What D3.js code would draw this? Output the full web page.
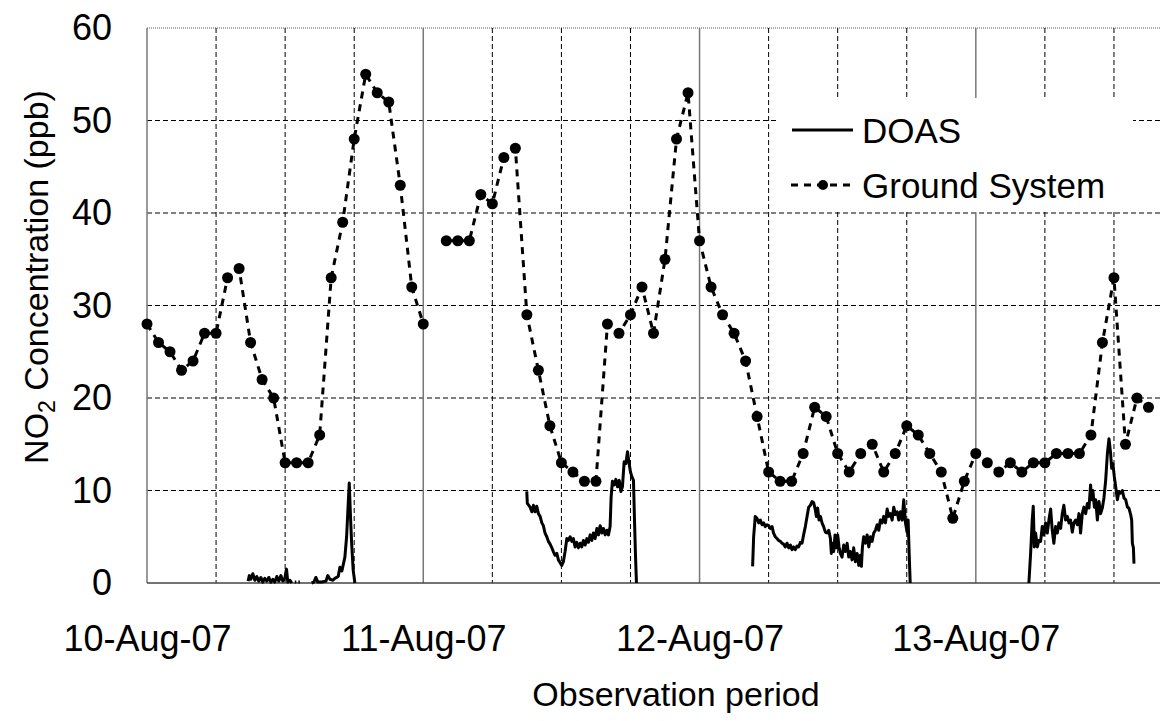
<!DOCTYPE html>
<html>
<head>
<meta charset="utf-8">
<script src="https://cdn.jsdelivr.net/npm/d3@7"></script>
<style>
  body { margin: 0; background: #fff; }
  svg { font-family: "Liberation Sans", Arial, sans-serif; }
</style>
</head>
<body>
<svg id="chart"></svg>
<script>
// NO2 concentration, DOAS vs ground system, 10-13 Aug 2007
const startTime = new Date(2007, 7, 10, 0, 0);
const endHour = 88;

// Ground system: one value per hour from 10-Aug 00:00 (null = missing)
const groundValues = [
    28, 26, 25, 23, 24, 27, 27, 33, 34, 26,
    22, 20, 13, 13, 13, 16, 33, 39, 48, 55,
    53, 52, 43, 32, 28, null, 37, 37, 37, 42,
    41, 46, 47, 29, 23, 17, 13, 12, 11, 11,
    28, 27, 29, 32, 27, 35, 48, 53, 37, 32,
    29, 27, 24, 18, 12, 11, 11, 14, 19, 18,
    14, 12, 14, 15, 12, 14, 17, 16, 14, 12,
    7, 11, 14, 13, 12, 13, 12, 13, 13, 14,
    14, 14, 16, 26, 33, 15, 20, 19
];

// DOAS: [hours since 10-Aug 00:00, ppb], null breaks the line
const doasRun1 = [
    [8.78, 0.2], [8.89, 0.8], [9.02, 0.4], [9.19, 1.0], [9.37, 0.3], [9.54, 0.7],
    [9.71, 0.2], [9.89, 0.6], [10.06, 0.1], [10.23, 0.5], [10.41, 0.2], [10.58, 0.6],
    [10.76, 0.1], [10.93, 0.4], [11.10, 0.1], [11.28, 0.7], [11.45, 0.2], [11.63, 0.8],
    [11.80, 0.2], [11.97, 0.5], [12.12, 1.5], [12.23, 0.1], [12.41, 0.3], [12.58, 0.0],
    null, [12.84, 0.1], [12.97, 0.1], null, [13.15, 0.1], [13.28, 0.1], null,
    [14.30, 0.0], [14.50, 0.1], [14.67, 0.6], [14.84, 0.1], [15.19, 0.1], [15.54, 0.2],
    [15.71, 0.8], [15.89, 0.4], [16.15, 0.3], [16.32, 0.5], [16.61, 0.7], [16.76, 1.7],
    [16.93, 1.3], [17.19, 2.8], [17.34, 5.0], [17.48, 8.6], [17.57, 10.8], [17.69, 6.8],
    [17.77, 4.5], [17.91, 1.4], [18.06, 0.0]
];
const doasRun2 = [
    [32.99, 9.9], [33.04, 8.6], [33.28, 8.2], [33.43, 7.7], [33.57, 8.4], [33.71, 7.7],
    [33.86, 8.3], [34.00, 7.5], [34.15, 7.2], [34.30, 6.5], [34.43, 6.2], [34.58, 5.4],
    [34.73, 5.0], [34.87, 4.5], [35.02, 4.2], [35.17, 3.8], [35.30, 3.4], [35.45, 3.0],
    [35.60, 3.2], [35.74, 2.5], [35.89, 2.2], [36.03, 1.9], [36.17, 2.3], [36.32, 3.4],
    [36.47, 4.8], [36.61, 4.6], [36.76, 5.0], [36.90, 4.5], [37.04, 4.8], [37.19, 3.9],
    [37.34, 4.4], [37.48, 3.8], [37.63, 4.3], [37.77, 3.9], [37.91, 4.6], [38.06, 4.1],
    [38.21, 4.8], [38.35, 4.4], [38.50, 5.2], [38.64, 4.6], [38.78, 5.4], [38.93, 4.8],
    [39.08, 5.9], [39.22, 5.2], [39.37, 6.2], [39.51, 5.4], [39.65, 5.9], [39.80, 5.2],
    [39.95, 5.7], [40.09, 5.2], [40.23, 6.1], [40.32, 9.3], [40.43, 11.0], [40.58, 10.6],
    [40.73, 11.2], [40.87, 10.4], [41.02, 11.1], [41.17, 9.9], [41.30, 10.4], [41.45, 13.1],
    [41.60, 12.9], [41.74, 14.2], [41.86, 13.1], [42.00, 12.0], [42.12, 11.5], [42.26, 11.1],
    [42.35, 6.8], [42.43, 3.2], [42.52, 0.0]
];
const doasRun3 = [
    [52.61, 1.8], [52.70, 5.0], [52.84, 7.2], [52.99, 7.0], [53.13, 6.5], [53.28, 6.8],
    [53.43, 6.3], [53.57, 6.5], [53.71, 6.1], [53.86, 6.3], [54.00, 6.2], [54.15, 5.9],
    [54.30, 6.1], [54.43, 5.4], [54.58, 5.0], [54.73, 4.8], [54.87, 4.6], [55.02, 4.5],
    [55.17, 4.3], [55.30, 4.2], [55.45, 3.9], [55.60, 4.3], [55.74, 3.8], [55.89, 4.1],
    [56.03, 3.6], [56.17, 3.9], [56.32, 3.6], [56.47, 4.0], [56.61, 3.9], [56.76, 4.4],
    [56.90, 4.3], [57.04, 5.2], [57.19, 6.1], [57.34, 7.2], [57.48, 8.2], [57.63, 8.4],
    [57.77, 8.8], [57.91, 8.7], [58.06, 7.9], [58.15, 7.2], [58.26, 8.1], [58.38, 6.8],
    [58.50, 7.2], [58.64, 6.5], [58.78, 6.1], [58.93, 5.5], [59.08, 5.4], [59.22, 5.7],
    [59.37, 4.8], [59.45, 3.2], [59.57, 4.3], [59.65, 3.4], [59.77, 5.2], [59.89, 3.8],
    [60.00, 5.2], [60.12, 3.9], [60.23, 3.2], [60.38, 2.8], [60.52, 4.1], [60.67, 3.4],
    [60.82, 4.3], [60.96, 2.8], [61.10, 3.4], [61.25, 2.5], [61.39, 3.8], [61.54, 2.3],
    [61.69, 3.2], [61.83, 1.9], [61.97, 3.0], [62.06, 1.8], [62.15, 3.9], [62.26, 5.0],
    [62.41, 4.3], [62.56, 5.2], [62.70, 3.9], [62.84, 5.0], [62.99, 4.5], [63.13, 5.4],
    [63.28, 5.7], [63.43, 6.3], [63.57, 5.7], [63.71, 6.8], [63.86, 6.5], [64.00, 7.2],
    [64.15, 6.5], [64.30, 8.0], [64.43, 7.2], [64.58, 7.5], [64.73, 6.8], [64.87, 8.2],
    [65.02, 7.4], [65.17, 7.7], [65.30, 6.8], [65.45, 7.7], [65.60, 6.8], [65.74, 9.0],
    [65.89, 6.5], [66.03, 5.5], [66.12, 6.8], [66.21, 3.2], [66.30, 0.0]
];
const doasRun4 = [
    [76.61, 0.0], [76.76, 3.2], [76.90, 6.8], [76.99, 8.3], [77.08, 3.9], [77.19, 5.4],
    [77.34, 3.9], [77.48, 4.6], [77.63, 4.5], [77.77, 6.1], [77.91, 5.2], [78.06, 6.5],
    [78.21, 5.4], [78.35, 6.8], [78.50, 8.0], [78.64, 5.7], [78.78, 4.3], [78.93, 6.1],
    [79.08, 5.4], [79.22, 6.5], [79.37, 5.9], [79.51, 7.5], [79.65, 8.4], [79.80, 6.8],
    [79.95, 7.2], [80.09, 6.5], [80.23, 6.8], [80.38, 5.5], [80.52, 6.5], [80.67, 6.8],
    [80.82, 6.3], [80.96, 7.5], [81.10, 5.4], [81.25, 7.5], [81.39, 8.2], [81.54, 7.5],
    [81.69, 8.6], [81.83, 8.1], [81.97, 10.6], [82.06, 9.0], [82.17, 10.0], [82.30, 8.2],
    [82.41, 9.0], [82.56, 6.8], [82.70, 8.8], [82.84, 7.5], [82.99, 8.1], [83.13, 9.2],
    [83.28, 11.1], [83.43, 14.0], [83.57, 15.6], [83.71, 14.0], [83.80, 12.4], [83.91, 12.9],
    [84.03, 11.5], [84.15, 10.4], [84.30, 9.0], [84.43, 9.9], [84.58, 9.7], [84.73, 10.0],
    [84.87, 9.2], [85.02, 9.0], [85.17, 8.2], [85.30, 8.1], [85.45, 7.4], [85.54, 6.8],
    [85.60, 4.3], [85.69, 3.8], [85.74, 2.1]
];

const yTicks = [0, 10, 20, 30, 40, 50, 60];
const gridHours = d3.range(6, endHour, 6);
const dayTicks = [10, 11, 12, 13].map(d => new Date(2007, 7, d));
const legendItems = ["DOAS", "Ground System"];

const width = 1169, height = 721;
const margin = {top: 28, right: 9, bottom: 138, left: 147};

const svg = d3.select("#chart")
    .attr("width", width)
    .attr("height", height);

const hourToDate = h => new Date(startTime.getTime() + h * 3600000);

const xScale = d3.scaleTime()
    .domain([startTime, hourToDate(endHour)])
    .range([margin.left, width - margin.right]);

const yScale = d3.scaleLinear()
    .domain([0, 60])
    .range([height - margin.bottom, margin.top]);

// horizontal grid (dashed), top border dotted
svg.append("g")
    .selectAll("line")
    .data(yTicks.filter(d => d > 0 && d < 60))
    .join("line")
    .attr("x1", margin.left).attr("x2", width - margin.right)
    .attr("y1", d => yScale(d)).attr("y2", d => yScale(d))
    .attr("stroke", "#000").attr("stroke-width", 1)
    .attr("stroke-dasharray", "5,3");

svg.append("line")
    .attr("x1", margin.left).attr("x2", width - margin.right)
    .attr("y1", yScale(60)).attr("y2", yScale(60))
    .attr("stroke", "#555").attr("stroke-width", 1.2)
    .attr("stroke-dasharray", "1,1");

// vertical grid: every 6 h dashed, midnight solid grey
svg.append("g")
    .selectAll("line")
    .data(gridHours)
    .join("line")
    .attr("x1", d => xScale(hourToDate(d))).attr("x2", d => xScale(hourToDate(d)))
    .attr("y1", yScale(60)).attr("y2", yScale(0))
    .attr("stroke", d => d % 24 === 0 ? "#777" : "#000")
    .attr("stroke-width", d => d % 24 === 0 ? 1.5 : 1)
    .attr("stroke-dasharray", d => d % 24 === 0 ? null : "5,3");

// axes lines
svg.append("line")
    .attr("x1", margin.left).attr("x2", margin.left)
    .attr("y1", yScale(60)).attr("y2", yScale(0))
    .attr("stroke", "#777").attr("stroke-width", 1.5);
svg.append("line")
    .attr("x1", margin.left).attr("x2", width - margin.right)
    .attr("y1", yScale(0)).attr("y2", yScale(0))
    .attr("stroke", "#444").attr("stroke-width", 1.5);

// y tick labels
const yAxis = d3.axisLeft(yScale)
    .tickValues(yTicks)
    .tickSize(0)
    .tickPadding(35);
const yAxisG = svg.append("g")
    .attr("transform", `translate(${margin.left},0)`)
    .call(yAxis);
yAxisG.select(".domain").remove();
yAxisG.selectAll("text")
    .attr("font-size", 36)
    .attr("font-family", "Liberation Sans, Arial, sans-serif")
    .attr("fill", "#000");

// x tick labels, centred on midnight
const xAxis = d3.axisBottom(xScale)
    .tickValues(dayTicks)
    .tickSize(0)
    .tickPadding(42)
    .tickFormat(d3.timeFormat("%d-%b-%y"));
const xAxisG = svg.append("g")
    .attr("transform", `translate(0,${yScale(0)})`)
    .call(xAxis);
xAxisG.select(".domain").remove();
xAxisG.selectAll("text")
    .attr("font-size", 36)
    .attr("font-family", "Liberation Sans, Arial, sans-serif")
    .attr("fill", "#000");

// axis titles
svg.append("text")
    .attr("x", 676)
    .attr("y", 706)
    .attr("text-anchor", "middle")
    .attr("font-size", 34)
    .text("Observation period");

const yTitle = svg.append("text")
    .attr("transform", "translate(48,277) rotate(-90)")
    .attr("text-anchor", "middle")
    .attr("font-size", 34);
yTitle.append("tspan").text("NO");
yTitle.append("tspan").attr("font-size", 23).attr("dy", 7).text("2");
yTitle.append("tspan").attr("dy", -7).text(" Concentration (ppb)");

// legend box
const legend = svg.append("g");
legend.append("rect")
    .attr("x", 778).attr("y", 98)
    .attr("width", 355).attr("height", 114)
    .attr("fill", "#fff");
legend.selectAll("text")
    .data(legendItems)
    .join("text")
    .attr("x", 862)
    .attr("y", (d, i) => 130 + i * 55)
    .attr("dy", "0.36em")
    .attr("font-size", 35)
    .text(d => d);
legend.append("line")
    .attr("x1", 792).attr("x2", 853)
    .attr("y1", 130).attr("y2", 130)
    .attr("stroke", "#000").attr("stroke-width", 3);
legend.append("line")
    .attr("x1", 791).attr("x2", 855)
    .attr("y1", 185).attr("y2", 185)
    .attr("stroke", "#000").attr("stroke-width", 3)
    .attr("stroke-dasharray", "7,6");
legend.append("circle")
    .attr("cx", 823).attr("cy", 185).attr("r", 5)
    .attr("fill", "#000");

// DOAS line
const doasLine = d3.line()
    .defined(d => d !== null)
    .x(d => xScale(hourToDate(d[0])))
    .y(d => yScale(d[1]));

svg.append("g")
    .selectAll("path")
    .data([doasRun1, doasRun2, doasRun3, doasRun4])
    .join("path")
    .attr("d", doasLine)
    .attr("fill", "none")
    .attr("stroke", "#000")
    .attr("stroke-width", 3)
    .attr("stroke-linejoin", "round");

// Ground system line + markers
const groundPoints = groundValues.map((v, i) => ({hour: i, value: v}));
const groundLine = d3.line()
    .defined(d => d.value !== null)
    .x(d => xScale(hourToDate(d.hour)))
    .y(d => yScale(d.value));

svg.append("path")
    .datum(groundPoints)
    .attr("d", groundLine)
    .attr("fill", "none")
    .attr("stroke", "#000")
    .attr("stroke-width", 3)
    .attr("stroke-dasharray", "7,6");

svg.append("g")
    .selectAll("circle")
    .data(groundPoints.filter(d => d.value !== null))
    .join("circle")
    .attr("cx", d => xScale(hourToDate(d.hour)))
    .attr("cy", d => yScale(d.value))
    .attr("r", 5.5)
    .attr("fill", "#000");
</script>
</body>
</html>
